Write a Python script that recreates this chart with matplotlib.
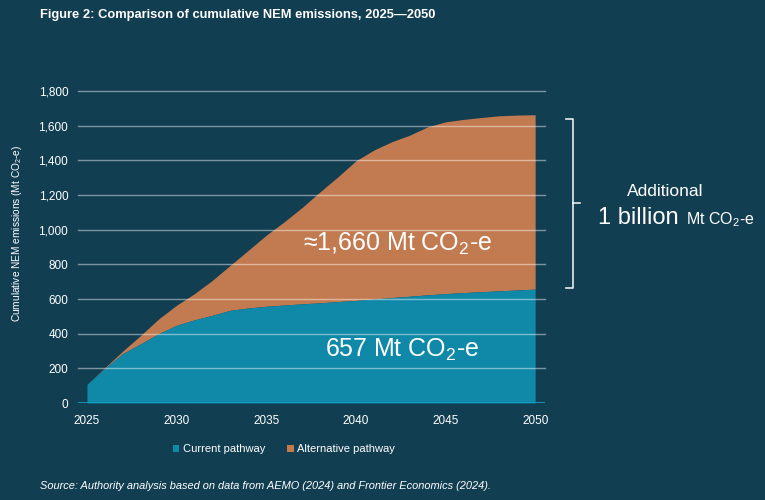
import matplotlib
matplotlib.use("Agg")
import matplotlib.pyplot as plt
import numpy as np

# Datos (Mt CO2-e acumulado)
years = [2025, 2026, 2027, 2028, 2029, 2030, 2031, 2032, 2033, 2034, 2035, 2036, 2037,
         2038, 2039, 2040, 2041, 2042, 2043, 2044, 2045, 2046, 2047, 2048, 2049, 2050]
current = [108, 200, 285, 342, 400, 448, 480, 506, 535, 548, 558, 565, 572,
           578, 585, 592, 600, 608, 616, 624, 631, 637, 642, 647, 652, 657]
alternative = [108, 204, 300, 390, 485, 564, 631, 708, 795, 881, 968, 1045, 1128,
               1218, 1305, 1397, 1459, 1507, 1545, 1593, 1622, 1636, 1647, 1657, 1661, 1663]
yticks = [0, 200, 400, 600, 800, 1000, 1200, 1400, 1600, 1800]
xticks = [2025, 2030, 2035, 2040, 2045, 2050]

bg = '#123e52'
azul = '#1089a9'
laranja = '#c27b50'

plt.rcParams['font.family'] = ['Liberation Sans', 'DejaVu Sans']
plt.rcParams['mathtext.fontset'] = 'custom'
plt.rcParams['mathtext.rm'] = 'Liberation Sans'
plt.rcParams['mathtext.it'] = 'Liberation Sans:italic'

fig = plt.figure(figsize=(7.65, 5.0), dpi=100, facecolor=bg)
ax = fig.add_axes([78/765, 1-403/500, (545-78)/765, (403-91)/500])
ax.set_facecolor(bg)

ax.fill_between(years, current, alternative, color=laranja, lw=0, label='Alternative pathway', zorder=1)
ax.fill_between(years, 0, current, color=azul, lw=0, label='Current pathway', zorder=1)

ax.set_xlim(2024.5, 2050.55)
ax.set_ylim(0, 1800)
ax.set_yticks(yticks)
ax.set_yticklabels(['{:,}'.format(v) for v in yticks])
ax.set_xticks(xticks)
ax.tick_params(axis='both', length=0, colors='white', labelsize=8.5)
ax.tick_params(axis='y', pad=7)
ax.tick_params(axis='x', pad=9)

#Linhas de grade por cima das áreas
for v in yticks[1:]:
    ax.axhline(v, color='white', alpha=0.45, lw=1, zorder=3, clip_on=False)
ax.axhline(0, color='#149cc0', lw=2, zorder=3)

for s in ax.spines.values():
    s.set_visible(False)

fig.text(17/765, 1-233/500, 'Cumulative NEM emissions (Mt CO$_2$-e)', color='white', fontsize=7.3,
         rotation=90, ha='center', va='center')

ax.text(2037.05, 920, '≈1,660 Mt CO$_2$-e', color='white', fontsize=18, ha='left', va='center', zorder=4)
ax.text(2042.57, 305, '657 Mt CO$_2$-e', color='white', fontsize=18, ha='center', va='center', zorder=4)

# Chave à direita
fig.add_artist(plt.Line2D([566/765, 573/765, 573/765, 566/765],
                          [1-119/500, 1-119/500, 1-288/500, 1-288/500],
                          color='white', lw=1.2, alpha=0.9))
fig.add_artist(plt.Line2D([573/765, 580/765], [1-203/500, 1-203/500], color='white', lw=1.2, alpha=0.9))
fig.text(665/765, 1-191/500, 'Additional', color='white', fontsize=12.5, ha='center', va='center')
fig.text(598/765, 1-218/500, '1 billion', color='white', fontsize=17, ha='left', va='center')
fig.text(686/765, 1-220/500, 'Mt CO$_2$-e', color='white', fontsize=11.5, ha='left', va='center')

fig.text(40/765, 1-15/500, 'Figure 2: Comparison of cumulative NEM emissions, 2025\u20142050',
         color='white', fontsize=9.3, fontweight='bold', ha='left', va='center')

h, l = ax.get_legend_handles_labels()
leg = fig.legend(h[::-1], l[::-1], loc='center', bbox_to_anchor=(284/765, 1-449/500), ncol=2,
                 frameon=False, fontsize=8, handlelength=0.6, handleheight=0.6, handletextpad=0.3,
                 columnspacing=2.0, labelcolor='white')

fig.text(40/765, 1-486/500, 'Source: Authority analysis based on data from AEMO (2024) and Frontier Economics (2024).',
         color='white', fontsize=7.9, style='italic', ha='left', va='center')

fig.savefig('out.png', dpi=100, facecolor=bg)
